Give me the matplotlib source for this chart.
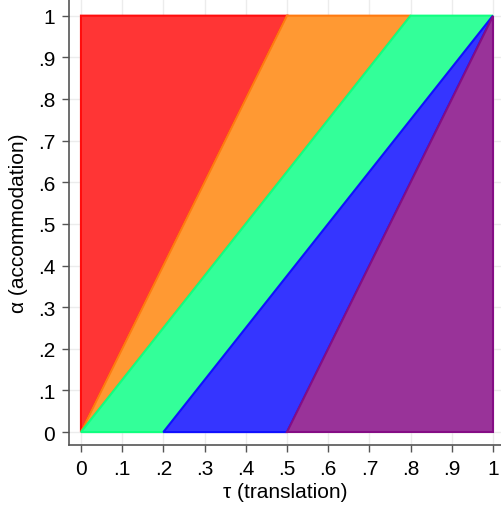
import matplotlib
matplotlib.use("Agg")
import matplotlib.pyplot as plt

plt.rcParams['font.family'] = ['Liberation Sans', 'DejaVu Sans']

# region outlines in (tau, alpha) space
red_tau = [0, 0.5, 0]
red_alpha = [0, 1, 1]
orange_tau = [0, 0.8, 0.5]
orange_alpha = [0, 1, 1]
green_tau = [0, 0.2, 1, 0.8]
green_alpha = [0, 0, 1, 1]
blue_tau = [0.2, 0.5, 1]
blue_alpha = [0, 0, 1]
purple_tau = [0.5, 1, 1]
purple_alpha = [0, 0, 1]

ticks = [0, 0.1, 0.2, 0.3, 0.4, 0.5, 0.6, 0.7, 0.8, 0.9, 1]
tick_labels = ["0", ".1", ".2", ".3", ".4", ".5", ".6", ".7", ".8", ".9", "1"]

fig = plt.figure(figsize=(5.02, 5.06), dpi=100)
ax = fig.add_axes([69/502, 60/506, 433/502, 446/506])

regions = [
    (red_tau, red_alpha, "#ff3535", "#ff0d0d"),
    (orange_tau, orange_alpha, "#ff9933", "#ff7a10"),
    (green_tau, green_alpha, "#33ff99", "#10ff80"),
    (blue_tau, blue_alpha, "#3535ff", "#1010ff"),
    (purple_tau, purple_alpha, "#993399", "#850d85"),
]
for xs, ys, face, edge in regions:
    ax.fill(xs, ys, facecolor=face, edgecolor=edge, linewidth=1.5, zorder=2)

ax.set_xlim(-0.029, 1.022)
ax.set_ylim(-0.031, 1.04)
ax.set_xticks(ticks)
ax.set_xticklabels(tick_labels)
ax.set_yticks(ticks)
ax.set_yticklabels(tick_labels)
ax.grid(True, color="#ececec", linewidth=1.0, zorder=0)
ax.set_axisbelow(True)

for side in ["top", "right"]:
    ax.spines[side].set_visible(False)
for side in ["left", "bottom"]:
    ax.spines[side].set_color("#555555")
    ax.spines[side].set_linewidth(1.2)
ax.tick_params(direction="out", length=5, width=1, color="#555555",
               labelsize=15, pad=5)

ax.set_xlabel("τ (translation)", fontsize=15, labelpad=3)
ax.set_ylabel("α (accommodation)", fontsize=15, labelpad=7)

fig.savefig("out.png", dpi=100)
